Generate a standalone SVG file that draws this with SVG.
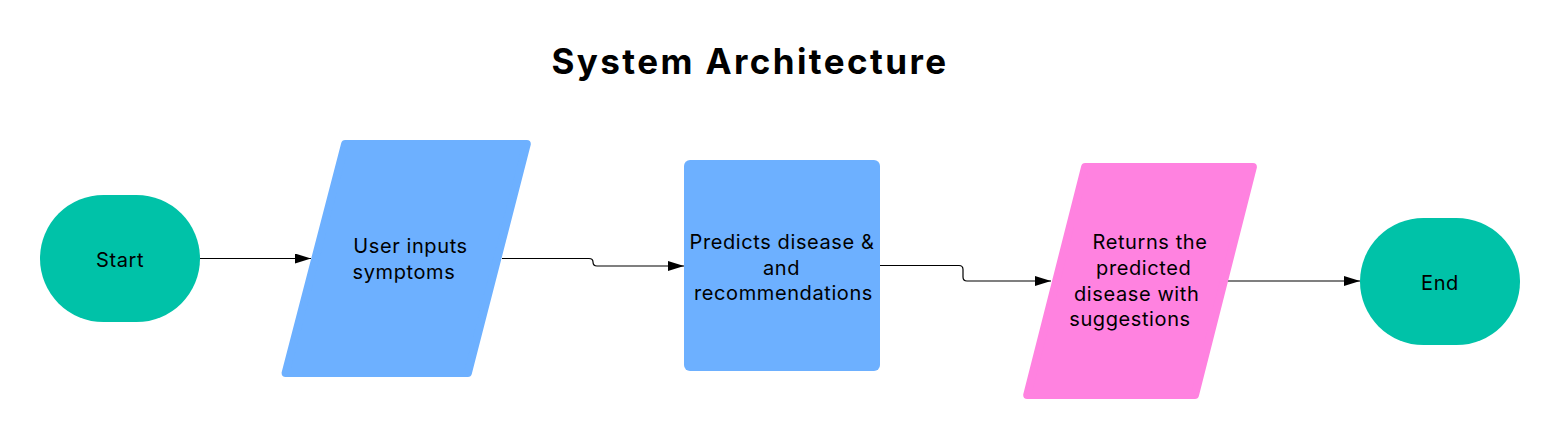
<svg xmlns="http://www.w3.org/2000/svg" width="1560" height="440" viewBox="0 0 1560 440">
  <defs>
    <marker id="arrow" markerWidth="16" markerHeight="10" refX="16" refY="5" orient="auto" markerUnits="userSpaceOnUse">
      <path d="M0,0 L16,5 L0,10 Z" fill="#000"/>
    </marker>
    <style>
      .title { font-family: Inter, "Liberation Sans", sans-serif; font-weight: 700; font-size: 35px; letter-spacing: 2.4px; fill: #000; }
      .lbl { font-family: Inter, "Liberation Sans", sans-serif; font-size: 20px; letter-spacing: 0.6px; fill: #000; text-anchor: middle; }
      .term { fill: #00C2A8; }
      .blue { fill: #6DB0FF; stroke: #6DB0FF; stroke-width: 8; stroke-linejoin: round; }
      .pink { fill: #FF82E0; stroke: #FF82E0; stroke-width: 8; stroke-linejoin: round; }
      .conn { fill: none; stroke: #000; stroke-width: 1.2; }
    </style>
  </defs>
  <rect width="1560" height="440" fill="#fff"/>
  <text class="title" x="750" y="74" text-anchor="middle">System Architecture</text>

  <g id="connectors">
    <path class="conn" d="M200,258.5 H311" marker-end="url(#arrow)"/>
    <path class="conn" d="M502,258.5 H589 Q593,258.5 593,262 Q593,266 597,266 H684" marker-end="url(#arrow)"/>
    <path class="conn" d="M880,265.5 H959 Q963,265.5 963,269.5 V277 Q963,281 967,281 H1051" marker-end="url(#arrow)"/>
    <path class="conn" d="M1227,281 H1360" marker-end="url(#arrow)"/>
  </g>

  <g id="start">
    <rect class="term" x="40" y="195" width="160" height="127" rx="63.5"/>
    <text class="lbl" x="120" y="267">Start</text>
  </g>

  <g id="input">
    <polygon class="blue" points="345.1,144 526.8,144 467.9,373 285.6,373"/>
    <text class="lbl" x="410.5" y="253">User inputs</text>
    <text class="lbl" x="404" y="279">symptoms</text>
  </g>

  <g id="predict">
    <rect x="684" y="160" width="196" height="211" rx="6" fill="#6DB0FF"/>
    <text class="lbl" x="782" y="248.5">Predicts disease &amp;</text>
    <text class="lbl" x="781.5" y="274.5">and</text>
    <text class="lbl" x="783.5" y="300">recommendations</text>
  </g>

  <g id="output">
    <polygon class="pink" points="1085.1,167 1252.9,167 1195,395 1027.2,395"/>
    <text class="lbl" x="1150" y="249">Returns the</text>
    <text class="lbl" x="1143.7" y="275">predicted</text>
    <text class="lbl" x="1136.7" y="300.5">disease with</text>
    <text class="lbl" x="1130" y="326">suggestions</text>
  </g>

  <g id="end">
    <rect class="term" x="1360" y="218" width="160" height="127" rx="63.5"/>
    <text class="lbl" x="1440" y="290">End</text>
  </g>
</svg>
